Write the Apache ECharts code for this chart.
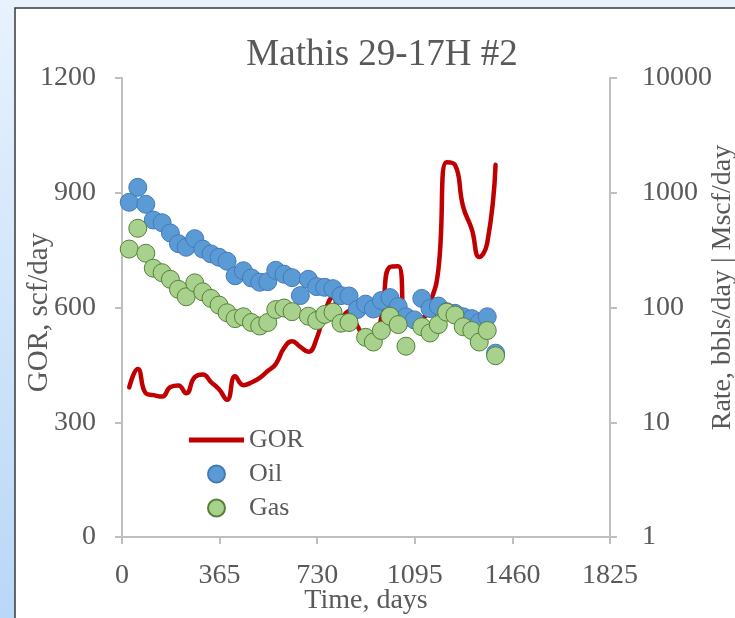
<!DOCTYPE html>
<html>
<head>
<meta charset="utf-8">
<script src="https://cdn.jsdelivr.net/npm/echarts@6/dist/echarts.min.js"></script>
<style>
  html, body { margin: 0; padding: 0; }
  #chart { width: 735px; height: 618px; }
</style>
</head>
<body>
<div id="chart"></div>
<script>
// Monthly production record, days on production
const days = [27, 59, 89, 117, 150, 181, 211, 240, 272, 302, 333, 363, 393, 423, 454, 484,
  515, 545, 575, 606, 636, 667, 697, 728, 758, 789, 819, 849, 880, 911, 940, 970, 1002,
  1033, 1062, 1093, 1121, 1152, 1183, 1214, 1245, 1276, 1308, 1336, 1366, 1397];

// Gas-oil ratio, scf/day (left axis)
const gor = [391, 439, 376, 371, 367, 392, 396, 376, 418, 425, 405, 386, 359, 420, 397, 404,
  416, 434, 452, 494, 512, 497, 484, 519, 588, 627, 573, 591, 552, 520, 515, 575, 706,
  708, 554, 573, 573, 612, 698, 980, 973, 863, 805, 732, 769, 973];

// Oil rate, bbls/day (right log axis)
const oil = [826, 1115, 793, 579, 548, 446, 360, 335, 398, 323, 293, 274, 253, 189, 209, 181,
  166, 168, 211, 195, 182, 127, 176, 152, 150, 146, 127, 126, 96, 107, 97, 115, 122,
  102, 83, 78, 120, 98, 103, 92, 89, 83, 80, 74, 83, 40];

// Gas rate, Mscf/day (right log axis); null = no reported volume
const gas = [323, 490, 297, 220, 201, 176, 144, 124, 164, 137, 120, 105, 90, 80, 83, 74,
  69, 74, 96, 99, 92, null, 84, 77, 87, 91, 73, 74, null, 55, 50, 63, 84,
  71, 46, null, 68, 60, 71, 91, 86, 68, 63, 50, 63, 38];

const xTicks = [0, 365, 730, 1095, 1460, 1825];
const gorTicks = [0, 300, 600, 900, 1200];
const rateTicks = [1, 10, 100, 1000, 10000];

const pair = (ys) => days.map((d, i) => [d, ys[i]]);
const plain = (v) => String(Math.round(v));

const FONT = '"Liberation Serif", "Times New Roman", serif';
const TXT = '#595959';
const AXIS = '#bfbfbf';

const chart = echarts.init(document.getElementById('chart'));
chart.setOption({
  animation: false,
  backgroundColor: new echarts.graphic.LinearGradient(0, 0, 0, 1, [
    { offset: 0, color: '#e8f2fd' },
    { offset: 1, color: '#b9d7f7' }
  ]),
  graphic: [{
    type: 'rect',
    z: -100,
    shape: { x: 15, y: 8, width: 900, height: 800 },
    style: { fill: '#ffffff', stroke: '#3a3a3a', lineWidth: 1.5 }
  }],
  title: {
    text: 'Mathis 29-17H #2',
    left: 377,
    top: 32,
    textAlign: 'center',
    textStyle: { fontFamily: FONT, fontSize: 37, fontWeight: 'normal', color: TXT }
  },
  legend: {
    orient: 'vertical',
    left: 184,
    top: 422,
    itemWidth: 55,
    itemHeight: 17,
    itemGap: 8,
    data: [
      { name: 'GOR', icon: 'path://M0,0 L55,0 L55,5 L0,5 Z' },
      { name: 'Oil' },
      { name: 'Gas' }
    ],
    textStyle: { fontFamily: FONT, fontSize: 26, color: TXT }
  },
  grid: {
    left: 122, right: 125, top: 78, bottom: 81,
    containLabel: false,
    outerBoundsMode: 'none'
  },
  xAxis: {
    type: 'value',
    min: xTicks[0],
    max: xTicks[xTicks.length - 1],
    interval: 365,
    name: 'Time, days',
    nameLocation: 'middle',
    nameGap: 50,
    nameMoveOverlap: false,
    nameTextStyle: { fontFamily: FONT, fontSize: 28, color: TXT },
    axisLine: { show: true, lineStyle: { color: AXIS, width: 2 } },
    axisTick: { show: true, length: 7, lineStyle: { color: AXIS, width: 2 } },
    axisLabel: { fontFamily: FONT, fontSize: 28, color: TXT, margin: 25, formatter: plain },
    splitLine: { show: false }
  },
  yAxis: [{
    type: 'value',
    min: gorTicks[0],
    max: gorTicks[gorTicks.length - 1],
    interval: 300,
    name: 'GOR, scf/day',
    nameLocation: 'middle',
    nameGap: 68,
    nameMoveOverlap: false,
    nameTextStyle: { fontFamily: FONT, fontSize: 29, color: TXT, padding: [0, 10, 0, 0] },
    axisLine: { show: true, lineStyle: { color: AXIS, width: 2 } },
    axisTick: { show: true, length: 7, lineStyle: { color: AXIS, width: 2 } },
    axisLabel: { fontFamily: FONT, fontSize: 28, color: TXT, margin: 26, formatter: plain },
    splitLine: { show: false }
  }, {
    type: 'log',
    logBase: 10,
    min: rateTicks[0],
    max: rateTicks[rateTicks.length - 1],
    position: 'right',
    name: 'Rate, bbls/day | Mscf/day',
    nameLocation: 'middle',
    nameGap: 99,
    nameRotate: 90,
    nameMoveOverlap: false,
    nameTextStyle: { fontFamily: FONT, fontSize: 28, color: TXT, padding: [0, 0, 0, 40] },
    axisLine: { show: true, lineStyle: { color: AXIS, width: 2 } },
    axisTick: { show: true, length: 7, lineStyle: { color: AXIS, width: 2 } },
    axisLabel: { fontFamily: FONT, fontSize: 28, color: TXT, margin: 32, formatter: plain },
    splitLine: { show: false }
  }],
  series: [{
    name: 'GOR',
    type: 'line',
    yAxisIndex: 0,
    data: pair(gor),
    smooth: 0.5,
    symbol: 'none',
    showSymbol: false,
    lineStyle: { color: '#c00000', width: 4.5, cap: 'round', join: 'round' },
    itemStyle: { color: '#c00000' },
    z: 2
  }, {
    name: 'Oil',
    type: 'scatter',
    yAxisIndex: 1,
    data: pair(oil),
    symbol: 'circle',
    symbolSize: 18,
    itemStyle: { color: '#5b9bd5', borderColor: '#4579b8', borderWidth: 1, opacity: 1 },
    z: 3
  }, {
    name: 'Gas',
    type: 'scatter',
    yAxisIndex: 1,
    data: pair(gas).filter((p) => p[1] !== null),
    symbol: 'circle',
    symbolSize: 18,
    itemStyle: { color: '#a9d18e', borderColor: '#548235', borderWidth: 1, opacity: 1 },
    z: 4
  }]
});
</script>
</body>
</html>
